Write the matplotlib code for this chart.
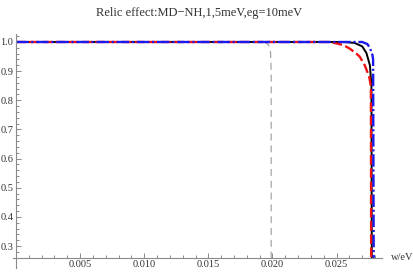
import matplotlib
matplotlib.use("Agg")
import matplotlib.pyplot as plt
from matplotlib.ticker import MultipleLocator, FormatStrFormatter

# curves (w in eV, relic factor)
black_w = [0.0, 0.0255, 0.0264, 0.0270, 0.02733, 0.0276, 0.02772, 0.02775]
black_r = [1.0, 1.0, 0.997, 0.985, 0.962, 0.92, 0.85, 0.20]

red_w = [0.0, 0.0245, 0.0255, 0.0260, 0.0265, 0.0268, 0.0272, 0.02755, 0.02768, 0.0277]
red_r = [1.0, 1.0, 0.99, 0.978, 0.962, 0.95, 0.92, 0.88, 0.847, 0.20]

blue_w = [0.0, 0.0270, 0.0274, 0.0276, 0.0278, 0.02785, 0.0279]
blue_r = [1.0, 1.0, 0.993, 0.98, 0.955, 0.94, 0.20]

gray_w = [0.0, 0.0194, 0.0197, 0.01985, 0.0199, 0.0199]
gray_r = [0.999, 0.999, 0.99, 0.965, 0.90, 0.20]

title = "Relic effect:MD\u2212NH,1,5meV,eg=10meV"
xlabel = "w/eV"

plt.rcParams["font.family"] = ["Liberation Serif", "DejaVu Serif"]
plt.rcParams["lines.scale_dashes"] = False

fig = plt.figure(figsize=(4.14, 2.73), dpi=100)
ax = fig.add_axes([0.0386, 0.056, 0.884, 0.819])

ax.plot(gray_w, gray_r, color="#9a9a9a", lw=0.8, dashes=(5, 3.5))
ax.plot(black_w, black_r, color="black", lw=1.4)
ax.plot(red_w, red_r, color="#ee1111", lw=1.7, dashes=(7, 2.5))
ax.plot(blue_w, blue_r, color="#1a1aee", lw=1.7, dashes=(9, 2, 1.5, 2))

xmin, xmax = 0.0, 0.02854
ymin, ymax = 0.26, 1.027
ax.set_xlim(xmin, xmax)
ax.set_ylim(ymin, ymax)

for s in ["top", "right"]:
    ax.spines[s].set_visible(False)
for s in ["left", "bottom"]:
    ax.spines[s].set_color("#8a8a8a")
    ax.spines[s].set_linewidth(0.8)
ax.spines["left"].set_bounds(ymin - 0.035, ymax)
ax.spines["bottom"].set_bounds(xmin - 0.0002, xmax)

ax.xaxis.set_major_locator(MultipleLocator(0.005))
ax.xaxis.set_minor_locator(MultipleLocator(0.001))
ax.yaxis.set_major_locator(MultipleLocator(0.1))
ax.yaxis.set_minor_locator(MultipleLocator(0.02))
ax.xaxis.set_major_formatter(FormatStrFormatter("%.3f"))
ax.yaxis.set_major_formatter(FormatStrFormatter("%.1f"))
ax.set_xticks([0.005, 0.010, 0.015, 0.020, 0.025])

ax.tick_params(which="both", direction="in", color="#8a8a8a", width=0.7,
               labelsize=7.5, labelcolor="#333333")
ax.tick_params(which="major", length=3.5, pad=2)
ax.tick_params(which="minor", length=2)

ax.set_title(title, fontsize=9, color="#333333", pad=13)
ax.text(1.025, 0.0, xlabel, transform=ax.transAxes, fontsize=7.5,
        color="#333333", ha="left", va="center")

fig.savefig("out.png", dpi=100)
